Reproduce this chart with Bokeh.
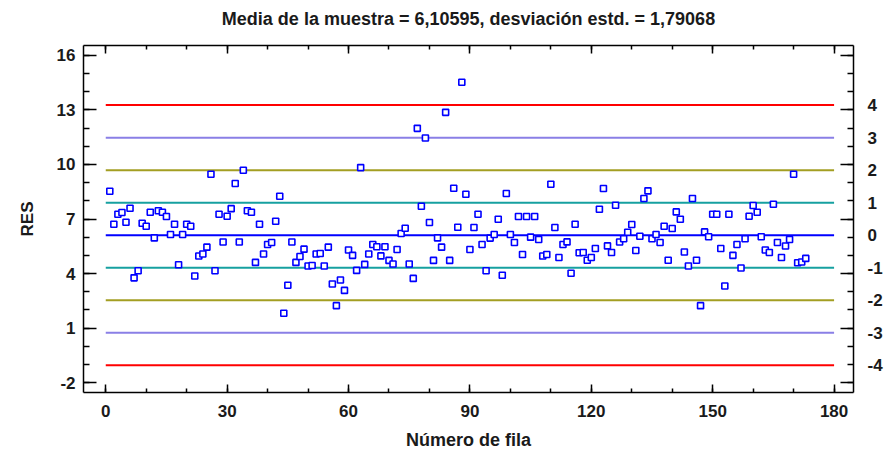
from bokeh.plotting import figure
from bokeh.models import Range1d, LinearAxis, FixedTicker, ColumnDataSource
from bokeh.embed import file_html
from bokeh.resources import INLINE

# ---------------- data ----------------
res_values = [
    8.53, 6.71, 7.26, 7.36, 6.82, 7.59, 3.76, 4.15, 6.77, 6.60,
    7.37, 5.96, 7.45, 7.37, 7.14, 6.15, 6.71, 4.48, 6.15, 6.71,
    6.60, 3.86, 4.96, 5.07, 5.45, 9.46, 4.15, 7.26, 5.73, 7.15,
    7.57, 8.95, 5.73, 9.68, 7.45, 7.37, 4.61, 6.71, 5.07, 5.60,
    5.71, 6.88, 8.25, 1.81, 3.35, 5.73, 4.61, 4.94, 5.34, 4.41,
    4.44, 5.07, 5.10, 4.41, 5.45, 3.42, 2.23, 3.64, 3.07, 5.29,
    5.00, 4.17, 9.83, 4.50, 5.07, 5.60, 5.47, 4.97, 5.47, 4.72,
    4.52, 5.32, 6.20, 6.49, 4.52, 3.73, 11.99, 7.70, 11.46, 6.81,
    4.72, 5.96, 5.45, 12.87, 4.72, 8.69, 6.55, 14.53, 8.36, 5.32,
    6.53, 7.26, 5.60, 4.15, 5.95, 6.15, 6.99, 3.90, 8.40, 6.15,
    5.71, 7.14, 5.05, 7.14, 6.00, 7.14, 5.87, 4.96, 5.05, 8.91,
    6.53, 4.88, 5.60, 5.74, 4.01, 6.71, 5.14, 5.16, 4.73, 4.88,
    5.38, 7.54, 8.68, 5.52, 5.16, 7.76, 5.73, 5.91, 6.27, 6.70,
    5.27, 6.05, 8.13, 8.55, 5.91, 6.15, 5.71, 6.60, 4.73, 6.48,
    7.39, 6.99, 5.18, 4.41, 8.13, 4.73, 2.23, 6.29, 6.02, 7.26,
    7.26, 5.38, 3.31, 7.26, 5.00, 5.60, 4.30, 5.91, 7.15, 7.74,
    7.37, 6.02, 5.29, 5.16, 7.81, 5.71, 4.88, 5.51, 5.87, 9.46,
    4.59, 4.63, 4.83,
]
row_numbers = list(range(1, len(res_values) + 1))

sample_mean = 6.10595
sample_std = 1.79068
sigma_levels = [4, 3, 2, 1, 0, -1, -2, -3, -4]
sigma_labels = ["4", "3", "2", "1", "0", "-1", "-2", "-3", "-4"]
sigma_colors = ["#FF0000", "#8A7FE6", "#A39E22", "#16A0A0", "#0000FF",
                "#16A0A0", "#A39E22", "#8A7FE6", "#FF0000"]

y_major_ticks = [-2, 1, 4, 7, 10, 13, 16]
y_major_labels = ["-2", "1", "4", "7", "10", "13", "16"]
y_minor_ticks = list(range(-2, 17))
x_major_ticks = [0, 30, 60, 90, 120, 150, 180]
x_minor_ticks = list(range(0, 181, 10))
x_limits_line = (0, 180)

title_text = "Media de la muestra = 6,10595, desviación estd. = 1,79068"
x_label = "Número de fila"
y_label = "RES"

# ---------------- figure ----------------
FONT = "Liberation Sans"
TXT = "#1a1a1a"
y_lo, y_hi = -2.55, 16.55
x_lo, x_hi = -5.5, 184.8

p = figure(width=887, height=455, x_range=Range1d(x_lo, x_hi), y_range=Range1d(y_lo, y_hi),
           output_backend="svg", toolbar_location=None)
p.extra_y_ranges = {"sigma": Range1d((y_lo - sample_mean) / sample_std,
                                     (y_hi - sample_mean) / sample_std)}

p.min_border_left = 83
p.min_border_right = 34
p.min_border_top = 45
p.min_border_bottom = 63
p.outline_line_color = None
p.xgrid.visible = False
p.ygrid.visible = False
p.background_fill_color = "white"
p.border_fill_color = "white"

# control lines
line_y = [sample_mean + k * sample_std for k in sigma_levels]
lines_src = ColumnDataSource(dict(y=line_y, x0=[x_limits_line[0]] * len(line_y),
                                  x1=[x_limits_line[1]] * len(line_y), color=sigma_colors))
p.segment(x0="x0", x1="x1", y0="y", y1="y", line_color="color", line_width=2, source=lines_src)

# points
p.scatter(row_numbers, res_values, marker="square", size=6, line_color="#0000FF",
          fill_color="white", line_width=1.6)

def style_axis(ax, major_in, minor_in):
    ax.axis_line_color = "black"
    ax.axis_line_width = 1.5
    ax.major_tick_line_color = "black"
    ax.minor_tick_line_color = "black"
    ax.major_tick_line_width = 1.5
    ax.minor_tick_line_width = 1.5
    ax.major_tick_in = major_in
    ax.major_tick_out = 0
    ax.minor_tick_in = minor_in
    ax.minor_tick_out = 0
    ax.major_label_text_font = FONT
    ax.major_label_text_font_size = "17px"
    ax.major_label_text_font_style = "bold"
    ax.major_label_text_color = TXT
    ax.axis_label_text_font = FONT
    ax.axis_label_text_font_size = "17px"
    ax.axis_label_text_font_style = "bold"
    ax.axis_label_text_color = TXT

def hide_labels(ax, ticks):
    ax.major_label_overrides = {t: "" for t in ticks}
    ax.major_label_text_font_size = "0px"
    ax.major_label_text_color = None
    ax.major_label_standoff = 0

xa = p.xaxis[0]
xa.ticker = FixedTicker(ticks=x_major_ticks, minor_ticks=x_minor_ticks)
style_axis(xa, 8, 4)
xa.axis_label = x_label
xa.axis_label_text_font_size = "18px"
xa.major_label_standoff = 12
xa.axis_label_standoff = 10

ya = p.yaxis[0]
ya.ticker = FixedTicker(ticks=y_major_ticks, minor_ticks=y_minor_ticks)
ya.major_label_overrides = dict(zip(y_major_ticks, y_major_labels))
style_axis(ya, 13, 6)
ya.axis_label = y_label
ya.major_label_standoff = 8
ya.axis_label_standoff = 17

# top frame edge with ticks; its axis label carries the chart title
top_ax = LinearAxis(ticker=FixedTicker(ticks=x_major_ticks, minor_ticks=x_minor_ticks))
style_axis(top_ax, 8, 4)
hide_labels(top_ax, x_major_ticks)
top_ax.axis_label = title_text
top_ax.axis_label_text_font_size = "18px"
top_ax.axis_label_standoff = 17
p.add_layout(top_ax, "above")

right_ticks = LinearAxis(ticker=FixedTicker(ticks=y_major_ticks, minor_ticks=y_minor_ticks))
style_axis(right_ticks, 13, 6)
hide_labels(right_ticks, y_major_ticks)
p.add_layout(right_ticks, "right")

sig_ax = LinearAxis(y_range_name="sigma", ticker=FixedTicker(ticks=sigma_levels, minor_ticks=[]))
style_axis(sig_ax, 0, 0)
sig_ax.major_label_overrides = dict(zip(sigma_levels, sigma_labels))
sig_ax.axis_line_color = None
sig_ax.major_tick_line_color = None
sig_ax.minor_tick_line_color = None
sig_ax.major_label_standoff = 14
p.add_layout(sig_ax, "right")

open("out.html", "w").write(file_html(p, INLINE))
